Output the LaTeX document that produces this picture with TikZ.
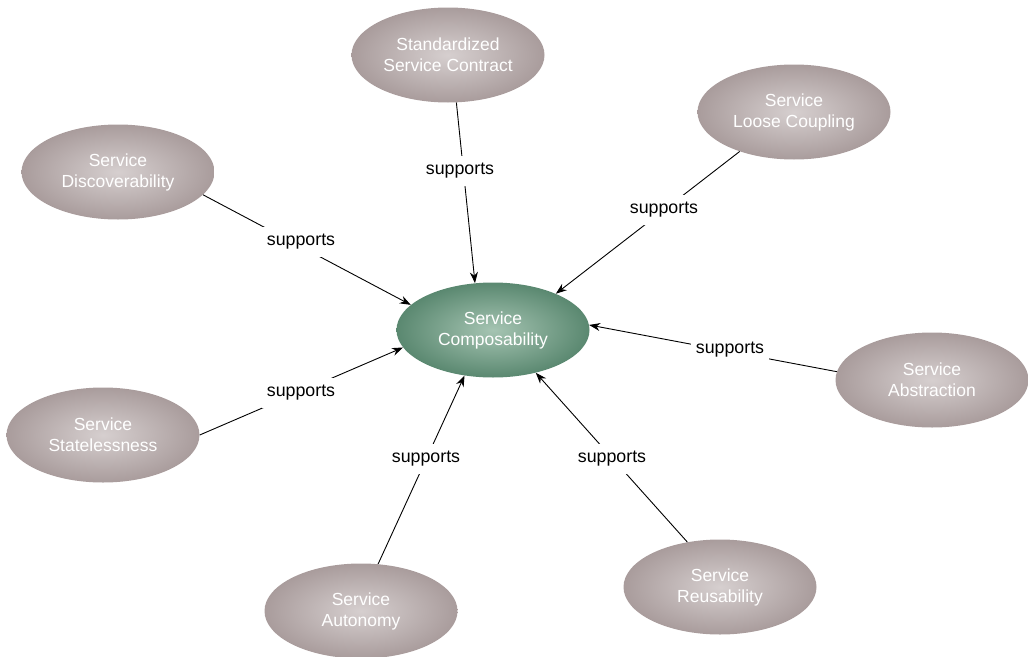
\documentclass[tikz,border=0pt]{standalone}
\usepackage{fontspec}
\setmainfont{Liberation Sans}
\usetikzlibrary{shapes.geometric,arrows.meta}
\definecolor{grayout}{HTML}{A99C9C}
\definecolor{grayin}{HTML}{D6CFCF}
\definecolor{greenout}{HTML}{5A8870}
\definecolor{greenin}{HTML}{A5C4B2}
\begin{document}
\begin{tikzpicture}[x=1pt,y=-1pt,
  principle/.style={ellipse, minimum width=193pt, minimum height=95pt, inner sep=0pt,
    inner color=grayin, outer color=grayout, text=white, align=center,
    font=\fontsize{17.5}{21}\selectfont},
  central/.style={principle, inner color=greenin, outer color=greenout},
  conn/.style={line width=0.9pt, -{Stealth[length=11pt,width=8pt]}},
  lbl/.style={fill=white, inner xsep=5pt, inner ysep=7pt, text=black, font=\fontsize{17.8}{21}\selectfont}]
\useasboundingbox (0,0) rectangle (1028,656);
\node[central] (comp) at (493,330) {Service\\Composability};
\node[principle] (contract) at (448,55) {Standardized\\Service Contract};
\node[principle] (loose) at (794,112) {Service\\Loose Coupling};
\node[principle] (disc) at (118,172) {Service\\Discoverability};
\node[principle] (abs) at (932,380) {Service\\Abstraction};
\node[principle] (state) at (103,435) {Service\\Statelessness};
\node[principle] (auto) at (361,611) {Service\\Autonomy};
\node[principle] (reuse) at (720,587) {Service\\Reusability};
\draw[conn] (contract.-80.5) -- (comp.111.8);
\draw[conn] (loose.216) -- (comp.30.4);
\draw[conn] (disc.-15) -- (comp.163.8);
\draw[conn] (abs.175) -- (comp.3);
\draw[conn] (state.0) -- (comp.191.8);
\draw[conn] (auto.70) -- (comp.-122);
\draw[conn] (reuse.126.7) -- (comp.-45);
\node[lbl] (l1) at (460,171) {supports};
\node[lbl] (l2) at (664,210) {supports};
\node[lbl] (l3) at (301,242) {supports};
\node[lbl] (l4) at (730,350) {supports};
\node[lbl] (l5) at (301,393) {supports};
\node[lbl] (l6) at (426,459) {supports};
\node[lbl] (l7) at (612,459) {supports};
\end{tikzpicture}
\end{document}
